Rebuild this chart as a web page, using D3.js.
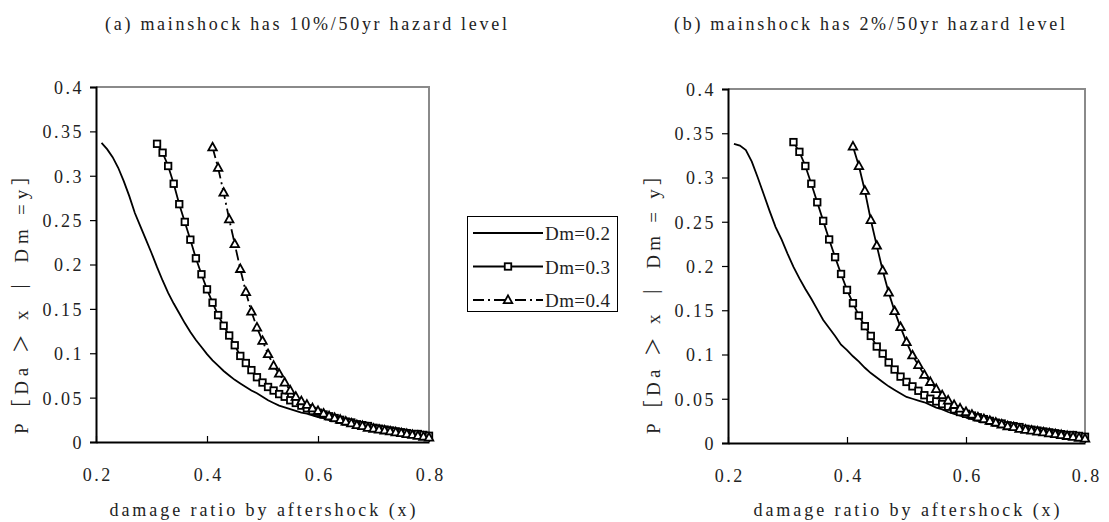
<!DOCTYPE html>
<html>
<head>
<meta charset="utf-8">
<script src="https://cdn.jsdelivr.net/npm/d3@7"></script>
<style>
  html, body { margin: 0; padding: 0; background: #fff; }
  svg { display: block; }
</style>
</head>
<body>
<svg id="chart" width="1109" height="522"></svg>
<script>
// Aftershock damage ratio grid (x), 0.21 .. 0.80
const damageRatio = [
  0.21,0.22,0.23,0.24,0.25,0.26,0.27,0.28,0.29,0.30,
  0.31,0.32,0.33,0.34,0.35,0.36,0.37,0.38,0.39,0.40,
  0.41,0.42,0.43,0.44,0.45,0.46,0.47,0.48,0.49,0.50,
  0.51,0.52,0.53,0.54,0.55,0.56,0.57,0.58,0.59,0.60,
  0.61,0.62,0.63,0.64,0.65,0.66,0.67,0.68,0.69,0.70,
  0.71,0.72,0.73,0.74,0.75,0.76,0.77,0.78,0.79,0.80
];

// (a) mainshock at 10%/50yr hazard
const probA_Dm02 = [
  0.337,0.330,0.321,0.309,0.294,0.277,0.258,0.243,0.228,
  0.213,0.197,0.182,0.168,0.156,0.145,0.134,0.124,0.115,0.107,
  0.099,0.092,0.086,0.080,0.075,0.070,0.066,0.062,0.058,0.055,
  0.051,0.047,0.044,0.041,0.039,0.037,0.035,0.033,0.032,0.030,
  0.028,0.027,0.025,0.024,0.022,0.021,0.019,0.018,0.017,0.016,
  0.015,0.014,0.013,0.012,0.011,0.010,0.009,0.008,0.007,0.006,
  0.005
];
const probA_Dm03 = [
  0.336,0.326,0.311,0.291,0.268,0.248,0.228,0.207,0.189,
  0.172,0.157,0.143,0.131,0.120,0.109,0.097,0.089,0.081,0.073,
  0.067,0.062,0.058,0.054,0.051,0.047,0.044,0.041,0.038,0.035,
  0.033,0.031,0.029,0.027,0.025,0.023,0.022,0.020,0.019,0.018,
  0.016,0.015,0.014,0.013,0.012,0.011,0.010,0.009,0.009,0.008,
  0.007
];
const probA_Dm04 = [
  0.332,0.309,0.281,0.251,0.223,0.195,0.169,0.147,0.129,
  0.114,0.099,0.086,0.077,0.067,0.058,0.051,0.046,0.042,0.038,
  0.035,0.032,0.029,0.027,0.025,0.023,0.021,0.019,0.018,0.016,
  0.015,0.014,0.013,0.012,0.011,0.010,0.009,0.008,0.007,0.006,
  0.005
];

// (b) mainshock at 2%/50yr hazard
const probB_Dm02 = [
  0.338,0.336,0.331,0.318,0.300,0.281,0.262,0.244,0.230,
  0.214,0.199,0.186,0.174,0.163,0.151,0.139,0.130,0.121,0.111,
  0.105,0.098,0.092,0.085,0.079,0.074,0.069,0.064,0.060,0.056,
  0.052,0.050,0.048,0.046,0.043,0.040,0.038,0.035,0.033,0.031,
  0.029,0.027,0.025,0.024,0.022,0.021,0.019,0.018,0.017,0.016,
  0.015,0.014,0.013,0.012,0.011,0.010,0.009,0.008,0.007,0.006,
  0.005
];
const probB_Dm03 = [
  0.340,0.329,0.313,0.293,0.272,0.251,0.230,0.210,0.191,
  0.173,0.158,0.144,0.132,0.121,0.109,0.101,0.091,0.083,0.075,
  0.069,0.064,0.059,0.054,0.050,0.047,0.044,0.041,0.038,0.035,
  0.033,0.031,0.029,0.027,0.025,0.023,0.022,0.020,0.019,0.018,
  0.016,0.015,0.014,0.013,0.012,0.011,0.010,0.009,0.009,0.008,
  0.007
];
const probB_Dm04 = [
  0.335,0.313,0.285,0.252,0.223,0.195,0.170,0.149,0.131,
  0.114,0.099,0.088,0.077,0.069,0.061,0.054,0.048,0.043,0.039,
  0.035,0.032,0.029,0.027,0.025,0.023,0.021,0.019,0.018,0.016,
  0.015,0.014,0.013,0.012,0.011,0.010,0.009,0.008,0.007,0.006,
  0.005
];

const seriesNames = ["Dm=0.2", "Dm=0.3", "Dm=0.4"];
const seriesStart = [0, 10, 20];          // index into damageRatio where each curve begins
const panelTitles = ["(a) mainshock has 10%/50yr hazard level", "(b) mainshock has 2%/50yr hazard level"];
const yTitles = ["P［Da ＞ x ｜ Dm =y］", "P［Da ＞ x ｜ Dm = y］"];
const xTitle = "damage ratio by aftershock (x)";
const xTickValues = [0.2, 0.4, 0.6, 0.8];
const xTickLabels = ["0.2", "0.4", "0.6", "0.8"];
const yTickValues = [0, 0.05, 0.1, 0.15, 0.2, 0.25, 0.3, 0.35, 0.4];
const yTickLabels = ["0", "0.05", "0.1", "0.15", "0.2", "0.25", "0.3", "0.35", "0.4"];

const svg = d3.select("#chart");
const serifFont = "'Liberation Serif', 'Noto Sans CJK SC', serif";
const textColor = "#222";

// each text run is spread over a fixed width, giving an evenly spaced, typewriter-like look
const panels = [
  { box: [96, 429, 87, 442], title: panelTitles[0], titleX: 105, titleLen: 402,
    yTitle: yTitles[0], yTitleX: 21, data: [probA_Dm02, probA_Dm03, probA_Dm04], dashed4: true },
  { box: [728, 1085, 89, 443], title: panelTitles[1], titleX: 674, titleLen: 391,
    yTitle: yTitles[1], yTitleX: 653, data: [probB_Dm02, probB_Dm03, probB_Dm04], dashed4: false }
];

function drawSquare(sel, size) {
  sel.append("rect")
    .attr("x", -size / 2).attr("y", -size / 2)
    .attr("width", size).attr("height", size)
    .attr("fill", "#fff").attr("stroke", "#000").attr("stroke-width", 1.8);
}
function drawTriangle(sel, size) {
  const h = size * 0.9;
  sel.append("path")
    .attr("d", `M0,${-h * 0.6}L${size / 2},${h * 0.4}L${-size / 2},${h * 0.4}Z`)
    .attr("fill", "#fff").attr("stroke", "#000").attr("stroke-width", 1.8)
    .attr("stroke-linejoin", "miter");
}

panels.forEach(p => {
  const [x0, x1, y0, y1] = p.box;
  const x = d3.scaleLinear().domain([0.2, 0.8]).range([x0, x1]);
  const y = d3.scaleLinear().domain([0, 0.4]).range([y1, y0]);
  const g = svg.append("g");

  // panel title
  g.append("text").attr("x", p.titleX).attr("y", 30)
    .attr("font-family", serifFont).attr("font-size", 18).attr("fill", textColor)
    .attr("textLength", p.titleLen).attr("lengthAdjust", "spacing")
    .text(p.title);

  // top and right frame (grey)
  g.append("path")
    .attr("d", `M${x0},${y0}H${x1}V${y1}`)
    .attr("fill", "none").attr("stroke", "#8a8a8a").attr("stroke-width", 2);

  // y axis
  const yAxis = d3.axisLeft(y).tickValues(yTickValues).tickSize(6)
    .tickFormat((d, i) => yTickLabels[i]);
  const ya = g.append("g").attr("transform", `translate(${x0},0)`).call(yAxis);
  ya.select(".domain").attr("stroke", "#000").attr("stroke-width", 2);
  ya.selectAll(".tick line").attr("stroke", "#000").attr("stroke-width", 1.2);
  ya.selectAll(".tick text")
    .attr("x", -12).attr("dy", "0.36em")
    .attr("font-family", serifFont).attr("font-size", 18)
    .attr("letter-spacing", 2.5).attr("fill", textColor);

  // x axis (ticks point into the plot)
  const xAxis = d3.axisBottom(x).tickValues(xTickValues).tickSizeInner(-6).tickSizeOuter(0)
    .tickFormat((d, i) => xTickLabels[i]);
  const xa = g.append("g").attr("transform", `translate(0,${y1})`).call(xAxis);
  xa.select(".domain").attr("stroke", "#000").attr("stroke-width", 2);
  xa.selectAll(".tick line").attr("stroke", "#000").attr("stroke-width", 1.2);
  xa.selectAll(".tick text")
    .attr("y", 39).attr("dy", 0).attr("dx", 1.25)
    .attr("font-family", serifFont).attr("font-size", 18)
    .attr("letter-spacing", 2.5).attr("fill", textColor);

  // axis titles
  const xc = (x0 + x1) / 2;
  g.append("text")
    .attr("x", xc - 153).attr("y", 516)
    .attr("font-family", serifFont).attr("font-size", 18).attr("fill", textColor)
    .attr("textLength", 306).attr("lengthAdjust", "spacing")
    .text(xTitle);
  g.append("text")
    .attr("transform", `translate(${p.yTitleX + 7},${300 + 134}) rotate(-90)`)
    .attr("font-family", serifFont).attr("font-size", 19).attr("fill", textColor)
    .attr("textLength", 268).attr("lengthAdjust", "spacing")
    .text(p.yTitle);

  // curves
  const line = d3.line().x(d => x(d[0])).y(d => y(d[1]));
  p.data.forEach((vals, si) => {
    const pts = vals.map((v, i) => [damageRatio[seriesStart[si] + i], v]);
    const path = g.append("path").datum(pts)
      .attr("d", line).attr("fill", "none")
      .attr("stroke", "#000").attr("stroke-width", 1.8);
    if (si === 2 && p.dashed4) path.attr("stroke-dasharray", "11,4,2,4");
    if (si > 0) {
      const m = g.append("g").selectAll("g").data(pts).join("g")
        .attr("transform", d => `translate(${x(d[0])},${y(d[1])})`);
      m.each(function () {
        if (si === 1) drawSquare(d3.select(this), 6.5);
        else drawTriangle(d3.select(this), 8.5);
      });
    }
  });
});

// legend
const lg = svg.append("g");
lg.append("rect").attr("x", 467.5).attr("y", 216.5).attr("width", 150).attr("height", 95)
  .attr("fill", "#fff").attr("stroke", "#000").attr("stroke-width", 1);
const rowY = [233, 266.5, 300];
seriesNames.forEach((name, i) => {
  const ry = rowY[i];
  const l = lg.append("line").attr("x1", 473).attr("x2", 543).attr("y1", ry).attr("y2", ry)
    .attr("stroke", "#000").attr("stroke-width", 1.8);
  if (i === 2) l.attr("stroke-dasharray", "11,4,2,4");
  const mg = lg.append("g").attr("transform", `translate(508,${ry})`);
  if (i === 1) drawSquare(mg, 6.5);
  if (i === 2) drawTriangle(mg, 8.5);
  lg.append("text").attr("x", 545).attr("y", ry + 7)
    .attr("font-family", serifFont).attr("font-size", 19).attr("fill", textColor)
    .attr("textLength", 65).attr("lengthAdjust", "spacing")
    .text(name);
});
</script>
</body>
</html>
